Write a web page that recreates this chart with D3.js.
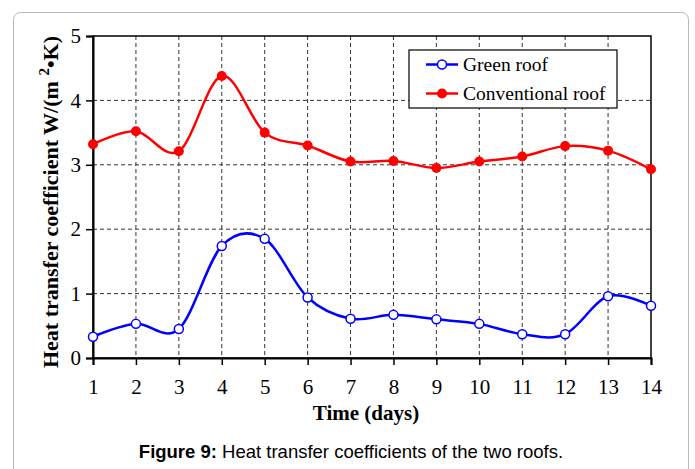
<!DOCTYPE html>
<html>
<head>
<meta charset="utf-8">
<script src="https://cdn.jsdelivr.net/npm/d3@7"></script>
<style>
  html, body { margin: 0; padding: 0; background: #fff; }
  svg { display: block; }
</style>
</head>
<body>
<div id="chart"></div>
<script>
// Datos
const days = [1, 2, 3, 4, 5, 6, 7, 8, 9, 10, 11, 12, 13, 14];
const greenRoof = [0.33, 0.53, 0.45, 1.74, 1.85, 0.94, 0.61, 0.67, 0.60, 0.53, 0.37, 0.37, 0.96, 0.81];
const conventionalRoof = [3.32, 3.52, 3.21, 4.38, 3.50, 3.30, 3.05, 3.06, 2.95, 3.05, 3.13, 3.29, 3.22, 2.93];
const yTicks = [0, 1, 2, 3, 4, 5];

const W = 695, H = 469;
const margin = { top: 36, right: 44, bottom: 111, left: 93 };
const width = W - margin.left - margin.right;
const height = H - margin.top - margin.bottom;

const svg = d3.select("#chart").append("svg")
    .attr("width", W)
    .attr("height", H);

// marco redondeado del panel
svg.append("rect")
    .attr("x", 13.5).attr("y", 12.5)
    .attr("width", 675).attr("height", 480)
    .attr("rx", 7)
    .attr("fill", "none")
    .attr("stroke", "#b8b8b8")
    .attr("stroke-width", 1);

const g = svg.append("g")
    .attr("transform", `translate(${margin.left},${margin.top})`);

const x = d3.scaleLinear().domain([1, 14]).range([0, width]);
const y = d3.scaleLinear().domain([0, 5]).range([height, 0]);

// grilla punteada
g.append("g").selectAll("line")
    .data(days.slice(1, -1))
    .join("line")
    .attr("x1", d => x(d)).attr("x2", d => x(d))
    .attr("y1", 0).attr("y2", height)
    .attr("stroke", "#333").attr("stroke-width", 1)
    .attr("stroke-dasharray", "4,3");
g.append("g").selectAll("line")
    .data(yTicks.slice(1, -1))
    .join("line")
    .attr("x1", 0).attr("x2", width)
    .attr("y1", d => y(d)).attr("y2", d => y(d))
    .attr("stroke", "#333").attr("stroke-width", 1)
    .attr("stroke-dasharray", "4,3");

// borde del área
g.append("rect")
    .attr("width", width).attr("height", height)
    .attr("fill", "none")
    .attr("stroke", "#000").attr("stroke-width", 1.5);

// ejes
const xAxis = g.append("g")
    .attr("transform", `translate(0,${height})`)
    .call(d3.axisBottom(x).tickValues(days).tickFormat(d3.format("d")).tickSize(7).tickPadding(14));
const yAxis = g.append("g")
    .call(d3.axisLeft(y).tickValues(yTicks).tickFormat(d3.format("d")).tickSize(7).tickPadding(5));
[xAxis, yAxis].forEach(a => {
  a.select(".domain").attr("stroke", "#000").attr("stroke-width", 2);
  a.selectAll(".tick line").attr("stroke", "#000").attr("stroke-width", 1.5);
  a.selectAll("text")
    .attr("font-family", "'Liberation Serif', 'Times New Roman', serif")
    .attr("font-size", 21)
    .attr("fill", "#000");
});

// curvas
const line = d3.line()
    .x((d, i) => x(days[i]))
    .y(d => y(d))
    .curve(d3.curveCardinal.tension(0));

g.append("path")
    .datum(greenRoof)
    .attr("d", line)
    .attr("fill", "none")
    .attr("stroke", "#0000ff")
    .attr("stroke-width", 2.5);
g.append("path")
    .datum(conventionalRoof)
    .attr("d", line)
    .attr("fill", "none")
    .attr("stroke", "#ff0000")
    .attr("stroke-width", 2.5);

g.append("g").selectAll("circle")
    .data(greenRoof)
    .join("circle")
    .attr("cx", (d, i) => x(days[i]))
    .attr("cy", d => y(d))
    .attr("r", 4.5)
    .attr("fill", "#fff")
    .attr("stroke", "#0000ff")
    .attr("stroke-width", 1.5);
g.append("g").selectAll("circle")
    .data(conventionalRoof)
    .join("circle")
    .attr("cx", (d, i) => x(days[i]))
    .attr("cy", d => y(d))
    .attr("r", 5)
    .attr("fill", "#ff0000");

// leyenda
const legend = svg.append("g").attr("transform", "translate(409,50)");
legend.append("rect")
    .attr("width", 208).attr("height", 58)
    .attr("fill", "#fff")
    .attr("stroke", "#000").attr("stroke-width", 1.2);
const items = [
  { name: "Green roof", color: "#0000ff", open: true },
  { name: "Conventional roof", color: "#ff0000", open: false }
];
items.forEach((it, i) => {
  const yy = 14.5 + i * 29;
  legend.append("line")
    .attr("x1", 17).attr("x2", 49)
    .attr("y1", yy).attr("y2", yy)
    .attr("stroke", it.color).attr("stroke-width", 2.5);
  legend.append("circle")
    .attr("cx", 33).attr("cy", yy)
    .attr("r", it.open ? 4.5 : 5)
    .attr("fill", it.open ? "#fff" : it.color)
    .attr("stroke", it.open ? it.color : "none")
    .attr("stroke-width", 1.5);
  legend.append("text")
    .attr("x", 54).attr("y", yy)
    .attr("dy", "0.35em")
    .attr("font-family", "'Liberation Serif', 'Times New Roman', serif")
    .attr("font-size", 19.5)
    .text(it.name);
});

// título eje Y
const yTitle = svg.append("text")
    .attr("transform", `translate(58,202) rotate(-90)`)
    .attr("text-anchor", "middle")
    .attr("font-family", "'Liberation Serif', 'Times New Roman', serif")
    .attr("font-weight", "bold")
    .attr("font-size", 22);
yTitle.append("tspan").text("Heat transfer coefficient W/(m ");
yTitle.append("tspan").attr("font-size", 15).attr("dy", -9).text("2");
yTitle.append("tspan").attr("dy", 9).text("•K)");

// título eje X
svg.append("text")
    .attr("x", 366)
    .attr("y", 420)
    .attr("text-anchor", "middle")
    .attr("font-family", "'Liberation Serif', 'Times New Roman', serif")
    .attr("font-weight", "bold")
    .attr("font-size", 21)
    .text("Time (days)");

// pie de figura
const caption = svg.append("text")
    .attr("x", 351)
    .attr("y", 458)
    .attr("text-anchor", "middle")
    .attr("font-family", "'Liberation Sans', Arial, sans-serif")
    .attr("font-size", 18.5);
caption.append("tspan").attr("font-weight", "bold").text("Figure 9:");
caption.append("tspan").text(" Heat transfer coefficients of the two roofs.");
</script>
</body>
</html>
